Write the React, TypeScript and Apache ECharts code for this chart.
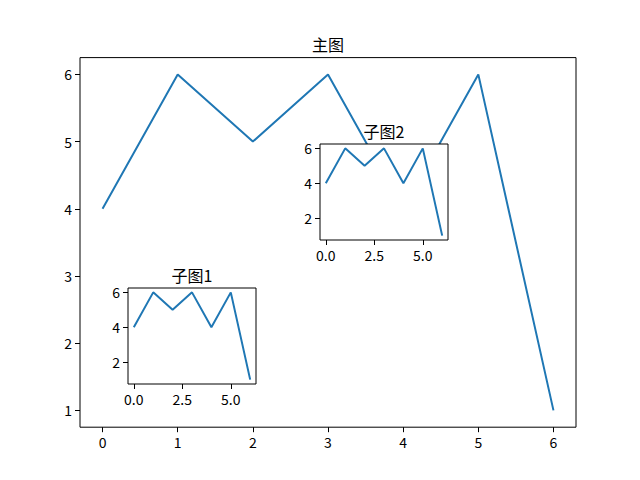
import React, { useEffect, useRef } from "react";
import * as echarts from "echarts";

const xValues = [0, 1, 2, 3, 4, 5, 6];
const yValues = [4, 6, 5, 6, 4, 6, 1];
const mainXTicks = [0, 1, 2, 3, 4, 5, 6];
const mainYTicks = [1, 2, 3, 4, 5, 6];
const insetXTicks = [0, 2.5, 5];
const insetYTicks = [2, 4, 6];
const mainTitle = "主图";
const inset1Title = "子图1";
const inset2Title = "子图2";

const FONT = "'Noto Sans CJK SC', 'DejaVu Sans', sans-serif";
const LINE = "#1f77b4";

export default function App() {
  const ref = useRef<HTMLDivElement>(null);
  useEffect(() => {
    if (!ref.current) return;
    const chart = echarts.init(ref.current, undefined, { renderer: "svg" });
    const data = xValues.map((x, i) => [x, yValues[i]]);

    const grids = [
      { left: 80, top: 57.6, width: 496, height: 369.6, z: 0 },
      { left: 128, top: 288, width: 128, height: 96, z: 10 },
      { left: 320, top: 144, width: 128, height: 96, z: 10 },
    ].map((g) => ({
      ...g,
      show: true,
      backgroundColor: "#ffffff",
      borderColor: "#000000",
      borderWidth: 1,
      containLabel: false,
    }));

    const makeX = (idx: number, ticks: number[], fmt: (v: number) => string, z: number) => ({
      type: "value",
      gridIndex: idx,
      position: "bottom",
      min: -0.3,
      max: 6.3,
      z,
      axisLine: { show: false, onZero: false },
      splitLine: { show: false },
      axisTick: {
        show: true,
        inside: false,
        length: 5,
        customValues: ticks,
        lineStyle: { color: "#000", width: 1 },
      },
      axisLabel: {
        show: true,
        margin: 8,
        customValues: ticks,
        formatter: (v: number) => fmt(v),
        color: "#000",
        fontSize: 14,
        fontFamily: FONT,
      },
    });
    const makeY = (idx: number, ticks: number[], z: number) => ({
      type: "value",
      gridIndex: idx,
      position: "left",
      min: 0.75,
      max: 6.25,
      z,
      axisLine: { show: false, onZero: false },
      splitLine: { show: false },
      axisTick: {
        show: true,
        inside: false,
        length: 5,
        customValues: ticks,
        lineStyle: { color: "#000", width: 1 },
      },
      axisLabel: {
        show: true,
        margin: 8,
        customValues: ticks,
        formatter: (v: number) => String(v),
        color: "#000",
        fontSize: 14,
        fontFamily: FONT,
      },
    });

    const seriesFor = (idx: number, z: number) => ({
      type: "line",
      xAxisIndex: idx,
      yAxisIndex: idx,
      data,
      z,
      showSymbol: false,
      symbol: "none",
      lineStyle: { color: LINE, width: 2 },
      itemStyle: { color: LINE },
    });

    const titleText = (text: string, x: number, y: number) => ({
      type: "text",
      x,
      y,
      z: 100,
      style: {
        text,
        textAlign: "center",
        textVerticalAlign: "bottom",
        fontSize: 16,
        fontFamily: FONT,
        fill: "#000",
      },
    });

    chart.setOption({
      animation: false,
      backgroundColor: "#ffffff",
      grid: grids,
      xAxis: [
        makeX(0, mainXTicks, (v) => String(v), 1),
        makeX(1, insetXTicks, (v) => v.toFixed(1), 12),
        makeX(2, insetXTicks, (v) => v.toFixed(1), 12),
      ],
      yAxis: [makeY(0, mainYTicks, 1), makeY(1, insetYTicks, 12), makeY(2, insetYTicks, 12)],
      series: [seriesFor(0, 2), seriesFor(1, 11), seriesFor(2, 11)],
      graphic: [
        titleText(mainTitle, 328, 52),
        titleText(inset1Title, 192, 283),
        titleText(inset2Title, 384, 139),
      ],
    });
    return () => chart.dispose();
  }, []);
  return (
    <div
      ref={ref}
      style={{ position: "fixed", left: 0, top: 0, width: 640, height: 480, background: "#fff" }}
    />
  );
}
